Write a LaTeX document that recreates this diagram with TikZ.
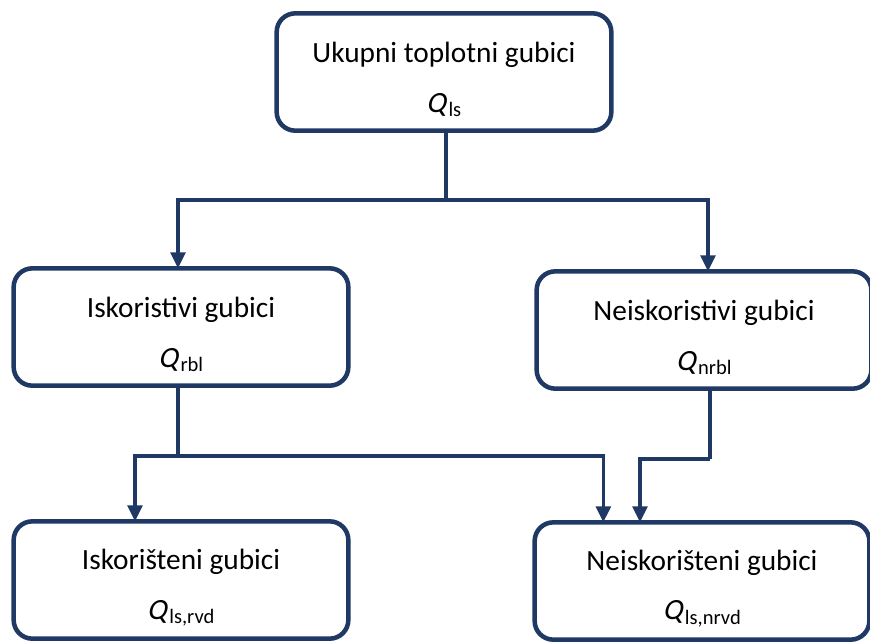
\documentclass[tikz,border=0pt]{standalone}
\usepackage{fontspec}
\setmainfont{Carlito}
\newfontfamily\slfont{Carlito}[FakeSlant=0.22]
\usetikzlibrary{arrows.meta}
\definecolor{navy}{RGB}{31,56,100}
\tikzset{
  box/.style={draw=navy, line width=3.4pt, rounded corners=14pt, minimum width=251pt,
    minimum height=88pt, align=center, inner sep=0pt, outer sep=0pt,
    font=\fontsize{22}{26}\selectfont},
  conn/.style={draw=navy, line width=2.6pt},
  arr/.style={conn, -{Triangle[width=11pt,length=12pt]}}
}
\newcommand{\qsym}[1]{{\slfont Q}\kern2pt\textsubscript{#1}}
\newcommand{\topstrut}{\rule{0pt}{27pt}}
\begin{document}
\begin{tikzpicture}[x=0.75pt, y=-0.75pt]
  \useasboundingbox (0,0) rectangle (870,643);
  % boxes
  \node[box] (total) at (444,72) {\topstrut Ukupni toplotni gubici\\[11pt]\qsym{ls}};
  \node[box] (rbl) at (181,327) {\topstrut Iskoristivi gubici\\[11pt]\qsym{rbl}};
  \node[box] (nrbl) at (704,330) {\topstrut Neiskoristivi gubici\\[11pt]\qsym{nrbl}};
  \node[box] (rvd) at (181,580) {\topstrut Iskorišteni gubici\\[11pt]\qsym{ls,rvd}};
  \node[box] (nrvd) at (702,581) {\topstrut Neiskorišteni gubici\\[11pt]\qsym{ls,nrvd}};
  % junctions
  \coordinate (j1) at (446,200);
  \coordinate (j2) at (178,456);
  \coordinate (j3) at (710,459);
  % connectors
  \draw[conn] (total.south -| j1) -- (j1);
  \draw[arr] (j1) -| ([xshift=-2.25pt]rbl.north);
  \draw[arr] (j1) -| ([xshift=3pt]nrbl.north);
  \draw[conn] (rbl.south -| j2) -- (j2);
  \draw[arr] (j2) -| ([xshift=-34.5pt]rvd.north);
  \draw[arr] (j2) -| ([xshift=-74pt]nrvd.north);
  \draw[conn] (nrbl.south -| j3) -- (j3);
  \draw[arr] (j3) -| ([xshift=-46.5pt]nrvd.north);
\end{tikzpicture}
\end{document}
